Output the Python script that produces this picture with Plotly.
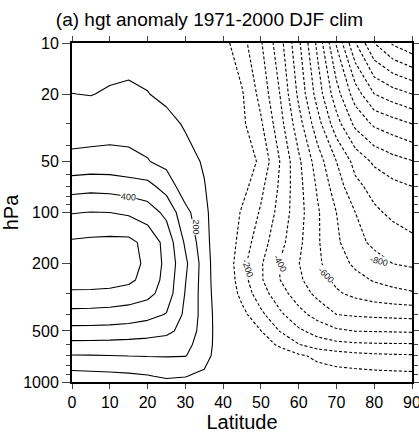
import math
import plotly.graph_objects as go

lats = [0, 5, 10, 15, 20, 25, 30, 35, 40, 45, 50, 55, 60, 65, 70, 75, 80, 85, 90]
levels = [10, 20, 30, 50, 70, 100, 150, 200, 250, 300, 400, 500, 600, 700, 850, 925, 1000]

z10 = [40, 42, 50, 55, 55, 45, 30, 10, -65, -165, -290, -460, -680, -925, -1210, -1495, -1700, -1815, -1880]
z20 = [101, 97, 110, 117, 103, 77, 50, 20, -35, -90, -233, -400, -622, -843, -1060, -1250, -1400, -1455, -1500]
z30 = [150, 150, 160, 165, 155, 130, 90, 35, -24, -80, -186, -360, -560, -760, -960, -1125, -1217, -1258, -1300]
z50 = [225, 232, 232, 222, 205, 170, 135, 90, 20, -35, -120, -300, -480, -650, -800, -933, -1018, -1065, -1095]
z70 = [356, 365, 360, 345, 330, 260, 140, 105, 22, -60, -175, -314, -467, -614, -750, -875, -933, -975, -1000]
z100 = [495, 503, 500, 485, 450, 375, 230, 125, 10, -113, -212, -333, -462, -588, -700, -800, -883, -920, -943]
z150 = [612, 620, 625, 625, 570, 465, 285, 140, -3, -144, -256, -367, -478, -589, -682, -771, -820, -855, -880]
z200 = [665, 670, 665, 645, 575, 475, 320, 155, -9, -171, -289, -405, -497, -583, -657, -718, -764, -801, -815]
z250 = [640, 645, 640, 620, 565, 465, 305, 155, -2, -157, -288, -398, -483, -557, -620, -670, -708, -730, -750]
z300 = [585, 582, 575, 560, 530, 455, 295, 155, 10, -134, -256, -360, -450, -525, -587, -625, -655, -675, -690]
z400 = [467, 465, 460, 450, 430, 395, 280, 162, 20, -67, -178, -280, -367, -438, -500, -512, -520, -525, -530]
z500 = [368, 367, 365, 358, 345, 325, 265, 157, 30, -23, -98, -203, -283, -336, -382, -402, -405, -408, -412]
z600 = [273, 272, 270, 265, 260, 250, 230, 150, 35, 6, -53, -117, -197, -255, -275, -285, -290, -292, -293]
z700 = [195, 196, 198, 202, 205, 207, 204, 140, 30, 15, -5, -45, -85, -120, -150, -170, -180, -187, -190]
z850 = [102, 105, 108, 112, 115, 118, 118, 98, 50, 15, -15, -40, -60, -75, -85, -92, -100, -104, -108]
z925 = [75, 78, 82, 88, 96, 108, 104, 70, 30, 0, -25, -40, -50, -58, -63, -68, -70, -72, -75]
z1000 = [40, 42, 48, 55, 65, 88, 75, 50, 15, -10, -25, -35, -40, -45, -48, -50, -52, -53, -55]

z = [z10, z20, z30, z50, z70, z100, z150, z200, z250, z300, z400, z500, z600, z700, z850, z925, z1000]

# contour labels: value, latitude, pressure, text angle
label_vals = [400, 200, -200, -400, -600, -800]
label_lats = [14.9, 32.7, 46.5, 55.0, 67.2, 81.2]
label_plev = [81, 122, 212, 199, 234, 193]
label_angles = [3, 90, 72, 62, 45, 15]

xticks = [0, 10, 20, 30, 40, 50, 60, 70, 80, 90]
yticks = [10, 20, 50, 100, 200, 500, 1000]
yminor = [30, 40, 60, 70, 80, 90, 300, 400, 600, 700, 800, 900]

FONT = "Liberation Sans, Arial, Helvetica, sans-serif"


def ctr(start, end, size, dash):
    return go.Contour(
        x=lats, y=levels, z=z,
        contours=dict(coloring="none", start=start, end=end, size=size,
                      showlabels=False),
        line=dict(color="black", width=1.1, dash=dash, smoothing=0),
        showscale=False, hoverinfo="skip",
    )


fig = go.Figure()
fig.add_trace(ctr(100, 1000, 100, "solid"))          # positive, solid
fig.add_trace(ctr(-2500, -100, 100, "3px,2px"))      # negative, dashed

for v, la, p, ang in zip(label_vals, label_lats, label_plev, label_angles):
    fig.add_annotation(
        x=la, y=math.log10(p), xref="x", yref="y", text=str(v),
        showarrow=False, textangle=ang, bgcolor="white", borderpad=0,
        font=dict(size=9, color="#222", family=FONT),
    )

fig.update_layout(
    width=419, height=437,
    margin=dict(l=72, r=7, t=43, b=55, autoexpand=False),
    paper_bgcolor="white", plot_bgcolor="white",
    font=dict(family=FONT, color="black"),
    showlegend=False,
    title=dict(text="(a) hgt anomaly 1971-2000 DJF clim", x=0.5, xanchor="center",
               y=0.955, yanchor="middle", font=dict(size=19)),
)
fig.update_xaxes(
    range=[0, 90], tickvals=xticks, ticks="outside", ticklen=5, tickwidth=1.2,
    showline=True, linewidth=2, linecolor="black", mirror="ticks",
    showgrid=False, zeroline=False, tickfont=dict(size=16), automargin=False,
    ticklabeloverflow="allow",
    title=dict(text="Latitude", font=dict(size=20), standoff=2),
)
fig.update_yaxes(
    type="log", range=[3, 1], tickvals=yticks, ticktext=[str(v) for v in yticks],
    ticks="outside", ticklen=8, tickwidth=1.2,
    minor=dict(tickvals=yminor, ticks="outside", ticklen=4, tickwidth=1),
    showline=True, linewidth=2, linecolor="black", mirror="ticks",
    showgrid=False, zeroline=False, tickfont=dict(size=16), automargin=False,
    ticklabeloverflow="allow",
    title=dict(text="hPa", font=dict(size=20), standoff=8),
)

fig.write_html("out.html")
